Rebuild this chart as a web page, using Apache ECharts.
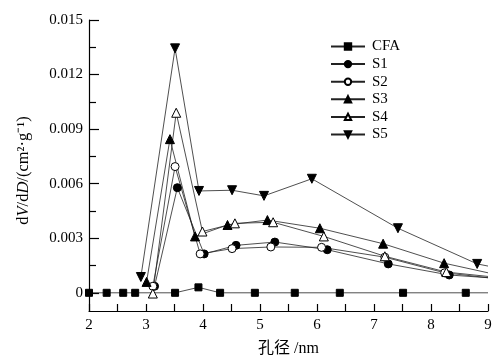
<!DOCTYPE html>
<html><head><meta charset="utf-8">
<script src="https://cdn.jsdelivr.net/npm/echarts@6/dist/echarts.min.js"></script>
<style>html,body{margin:0;padding:0;background:#fff}#c{width:497px;height:362px}</style>
</head><body><div id="c"></div>
<script>
// ---- data ----
const seriesNames = ['CFA','S1','S2','S3','S4','S5'];
const cfaX = [2.0,2.31,2.6,2.81,3.51,3.92,4.3,4.91,5.61,6.40,7.51,8.61,9.0];
const cfaY = [0,0,0,0,0,0.0003,0,0,0,0,0,0,0];
const s1X = [3.15,3.55,4.02,4.58,5.26,6.18,7.25,8.32,9.0];
const s1Y = [0.00036,0.00578,0.00214,0.00261,0.00279,0.00237,0.00159,0.00098,0.00083];
const s2X = [3.12,3.51,3.95,4.51,5.19,6.08,7.19,8.24,9.0];
const s2Y = [0.00036,0.00694,0.00214,0.00243,0.00252,0.0025,0.00196,0.0011,0.00083];
const s3X = [3.01,3.42,3.86,4.43,5.13,6.05,7.16,8.23,9.0];
const s3Y = [0.0006,0.00845,0.0031,0.00373,0.004,0.00355,0.0027,0.00163,0.0011];
const s4X = [3.12,3.53,3.99,4.56,5.23,6.12,7.19,8.27,9.0];
const s4Y = [-0.00004,0.0099,0.00337,0.00382,0.00388,0.0031,0.00201,0.00114,0.0009];
const s5X = [2.91,3.51,3.93,4.51,5.07,5.91,7.42,8.81,9.0];
const s5Y = [0.00087,0.01344,0.0056,0.00564,0.00533,0.00627,0.00355,0.00159,0.00147];
const xTicks = [2,3,4,5,6,7,8,9];
const yLabels = [0,0.003,0.006,0.009,0.012,0.015];
const yMinorTicks = [0.0015,0.0045,0.0075,0.0105,0.0135];

const font = '"Liberation Serif","Times New Roman","Noto Sans CJK SC",serif';
function pts(xs, ys){
  return xs.map((x,i)=>{
    const p = {value:[x, ys[i]]};
    if (i === xs.length-1 && x === 9.0) p.symbol = 'none';
    return p;
  });
}
const defs = [
  {x:cfaX,y:cfaY,symbol:'rect',size:7,fill:'#000',rot:0},
  {x:s1X,y:s1Y,symbol:'circle',size:8,fill:'#000',rot:0},
  {x:s2X,y:s2Y,symbol:'circle',size:8,fill:'#fff',rot:0},
  {x:s3X,y:s3Y,symbol:'triangle',size:9,fill:'#000',rot:0},
  {x:s4X,y:s4Y,symbol:'triangle',size:9,fill:'#fff',rot:0},
  {x:s5X,y:s5Y,symbol:'triangle',size:9,fill:'#000',rot:180}
];
const series = defs.map((d,i)=>({
  name: seriesNames[i], type:'line', data: pts(d.x,d.y),
  symbol:d.symbol, symbolSize:d.size, symbolRotate:d.rot,
  showAllSymbol:true, clip:true, animation:false,
  lineStyle:{color:'#222', width:0.8},
  itemStyle:{color:d.fill, borderColor:'#000', borderWidth:1},
  emphasis:{disabled:true}
}));
const chart = echarts.init(document.getElementById('c'), null, {renderer:'canvas'});
chart.setOption({
  backgroundColor:'#fff',
  animation:false,
  grid:{left:89, right:9, top:20, bottom:49, containLabel:false},
  legend:{
    orient:'vertical', left:325, top:34, itemGap:2.6, itemWidth:34, itemHeight:8,
    textStyle:{fontFamily:font, fontSize:15, color:'#000', padding:[0,0,0,2]},
    data: seriesNames
  },
  xAxis:{
    type:'value', min:2, max:9, interval:1,
    name:'孔径 /nm', nameLocation:'middle', nameGap:30,
    nameTextStyle:{fontFamily:font, fontSize:16, color:'#000'},
    axisLine:{show:true, onZero:false, lineStyle:{color:'#000', width:1.2}},
    axisTick:{show:true, inside:true, length:7, lineStyle:{color:'#000', width:1.2}},
    minorTick:{show:true, splitNumber:2, length:7, lineStyle:{color:'#000', width:1.2}},
    axisLabel:{fontFamily:font, fontSize:15, color:'#000', margin:7},
    splitLine:{show:false}
  },
  yAxis:[{
    type:'value', min:-0.001, max:0.015,
    name:'d{i|V}/d{i|D}/(cm²·g⁻¹)', nameLocation:'middle', nameGap:57,
    nameTextStyle:{fontFamily:font, fontSize:16.5, color:'#000', padding:[0,10,0,0],
      rich:{i:{fontFamily:font, fontSize:16.5, fontStyle:'italic', color:'#000'}}},
    axisLine:{show:true, onZero:false, lineStyle:{color:'#000', width:1.2}},
    axisTick:{show:true, inside:true, length:10, customValues:yLabels, lineStyle:{color:'#000', width:1.2}},
    axisLabel:{fontFamily:font, fontSize:15, color:'#000', margin:6, customValues:yLabels,
      formatter:v=>String(v)},
    splitLine:{show:false}
  },{
    type:'value', min:-0.001, max:0.015, position:'left',
    axisLine:{show:false},
    axisTick:{show:true, inside:true, length:7, customValues:yMinorTicks, lineStyle:{color:'#000', width:1.2}},
    axisLabel:{show:false},
    splitLine:{show:false}
  }],
  series: series
});
</script></body></html>
